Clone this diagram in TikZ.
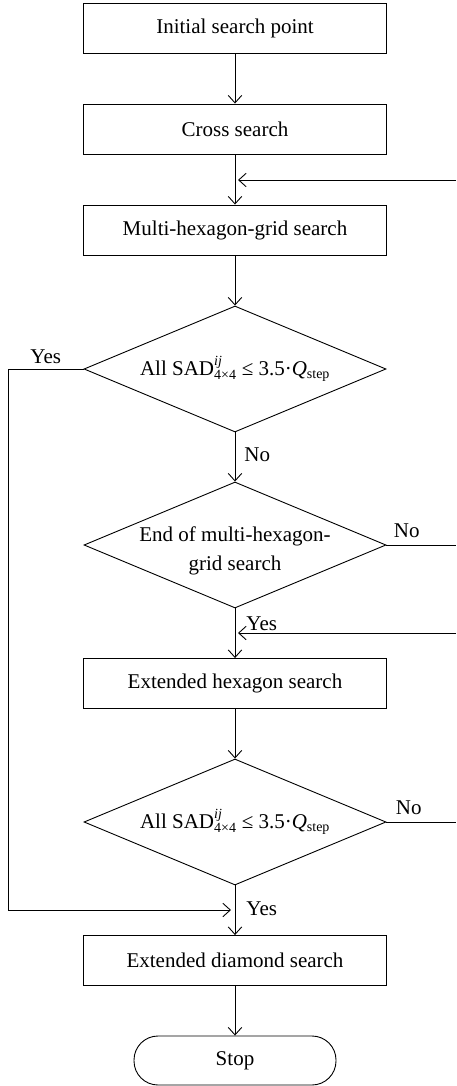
\documentclass[tikz,border=0pt]{standalone}
\usepackage{fontspec}
\setmainfont{Liberation Serif}
\usetikzlibrary{arrows.meta,shapes.geometric,calc}
\newcommand{\smallfs}{\fontsize{14}{14}\selectfont}
\newcommand{\sadexpr}{All SAD$^{\mbox{\smallfs\itshape ij}}_{\mbox{\smallfs 4×4}}$\ ≤ 3.5·\textit{Q}$_{\mbox{\smallfs step}}$}
\begin{document}
\begin{tikzpicture}[x=1pt,y=-1pt,
  every node/.style={font=\fontsize{21}{27}\selectfont},
  box/.style={draw, line width=0.9pt, minimum width=303pt, minimum height=50pt, inner sep=0pt},
  dec/.style={draw, diamond, line width=0.9pt, minimum width=302pt, minimum height=126pt, aspect=2.4, inner sep=0pt, align=center},
  term/.style={draw, rectangle, rounded corners=24pt, line width=0.9pt, minimum width=202pt, minimum height=49pt},
  line/.style={line width=0.9pt},
  arr/.style={line, -{Straight Barb[length=7.5pt,width=13.5pt]}},
  lab/.style={inner sep=0pt, anchor=base west}
]
\useasboundingbox (0,0) rectangle (456,1086);

\node[box] (b1) at (235,28) {Initial search point};
\node[box] (b2) at (235,129) {Cross search};
\node[box] (b3) at (235,230) {Multi-hexagon-grid search};
\node[dec] (d1) at (235,369) {\sadexpr};
\node[dec, label={[align=center, inner sep=0pt, yshift=-6pt, font=\fontsize{21}{29}\selectfont]center:End of multi-hexagon-\\grid search}] (d2) at (235,545) {};
\node[box] (b4) at (235,683.5) {Extended hexagon search};
\node[dec] (d3) at (235,822) {\sadexpr};
\node[box] (b5) at (235,960.5) {Extended diamond search};
\node[term] (st) at (235,1060.5) {Stop};

\coordinate (r1) at (456,180);
\coordinate (r2) at (456,545);
\coordinate (r3) at (456,633);
\coordinate (r4) at (456,822);
\coordinate (l1) at (8,369);
\coordinate (l2) at (8,910);

\draw[arr] (b1) -- (b2);
\draw[arr] (b2) -- (b3);
\draw[arr] (r1) -- ($(b3.north |- r1)+(3,0)$);
\draw[arr] (b3) -- (d1);
\draw[arr] (d1) -- node[lab, pos=0.6, xshift=9pt] {No} (d2);
\draw[line] (d2.east) -- node[pos=0, anchor=south west, inner sep=0pt, xshift=7pt, yshift=7pt] {No} (r2);
\draw[arr] (d2) -- node[lab, pos=0.45, xshift=11pt] {Yes} (b4);
\draw[arr] (r3) -- ($(b4.north |- r3)+(3,0)$);
\draw[arr] (b4) -- (d3);
\draw[line] (d3.east) -- node[pos=0, anchor=south west, inner sep=0pt, xshift=9pt, yshift=7pt] {No} (r4);
\draw[arr] (d3) -- node[lab, pos=0.6, xshift=11pt] {Yes} (b5);
\draw[arr] (d1.west) -- node[above, inner sep=5pt] {Yes} (l1) -- (l2) -- ($(d3.south |- l2)+(-4,0)$);
\draw[arr] (b5) -- (st);
\end{tikzpicture}
\end{document}
